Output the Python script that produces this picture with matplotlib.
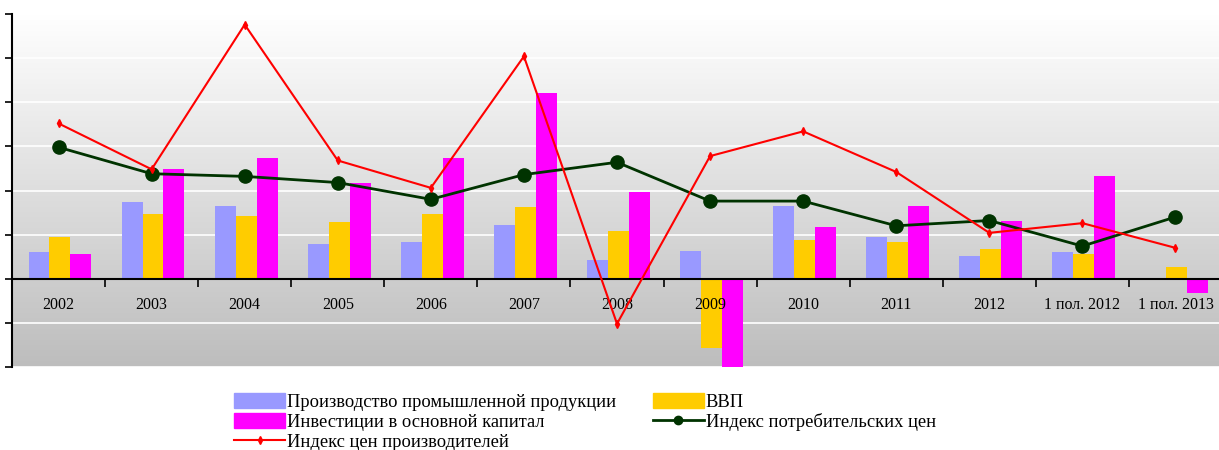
import numpy as np
import matplotlib.pyplot as plt
from matplotlib.lines import Line2D
from matplotlib.patches import Patch
from matplotlib.colors import LinearSegmentedColormap

## Données
categories = ['2002', '2003', '2004', '2005', '2006', '2007', '2008', '2009',
              '2010', '2011', '2012', '1 пол. 2012', '1 пол. 2013']
prom = [3.0, 8.7, 8.3, 3.9, 4.2, 6.1, 2.1, 3.2, 8.2, 4.7, 2.6, 3.0, 0.0]
vvp = [4.7, 7.3, 7.1, 6.4, 7.3, 8.1, 5.4, -7.8, 4.4, 4.2, 3.4, 2.8, 1.3]
invest = [2.8, 12.4, 13.7, 10.9, 13.7, 21.1, 9.8, -10.0, 5.9, 8.3, 6.6, 11.6, -1.6]
ipc = [14.9, 11.9, 11.6, 10.9, 9.0, 11.8, 13.2, 8.8, 8.8, 6.0, 6.6, 3.7, 7.0]
icp = [17.6, 12.4, 28.8, 13.4, 10.3, 25.2, -5.1, 13.9, 16.7, 12.1, 5.2, 6.3, 3.5]

legend_labels = ['Производство промышленной продукции', 'ВВП',
                 'Инвестиции в основной капитал', 'Индекс потребительских цен',
                 'Индекс цен производителей']

## Figure
plt.rcParams['font.family'] = ['Liberation Serif', 'DejaVu Serif']
fig = plt.figure(figsize=(12.19, 4.5), dpi=100)
ax = fig.add_axes([12 / 1219, 83 / 450, 1210 / 1219, 353 / 450])

x = np.arange(len(categories))
ax.set_xlim(-0.5, len(categories) - 0.5)
ax.set_ylim(-10, 30)

# fond dégradé
grad = np.linspace(1, 0, 256).reshape(-1, 1)
cmap = LinearSegmentedColormap.from_list('fond', ['#bdbdbd', '#ffffff'])
ax.imshow(grad, aspect='auto', cmap=cmap, extent=[-0.5, len(categories) - 0.5, -10, 30],
          origin='upper', zorder=0)
for yv in range(-10, 31, 5):
    ax.axhline(yv, color='white', lw=1.2, zorder=0.5)

w = 0.225
off = 0.015
ax.bar(x - w + off, prom, w, color='#9999ff', zorder=2)
ax.bar(x + off, vvp, w, color='#ffcc00', zorder=2)
ax.bar(x + w + off, invest, w, color='#ff00ff', zorder=2)

ax.plot(x, ipc, color='#003300', lw=2, marker='o', ms=9.5, zorder=3)
ax.plot(x, icp, color='#ff0000', lw=1.5, marker='d', ms=4, zorder=4)

# axes
ax.set_axisbelow(False)
ax.spines['top'].set_visible(False)
ax.spines['right'].set_visible(False)
ax.spines['bottom'].set_position(('data', 0))
ax.spines['bottom'].set_linewidth(1.5)
ax.spines['left'].set_linewidth(1.5)
ax.set_yticks(range(-10, 31, 5))
ax.set_yticklabels([])
ax.tick_params(axis='y', direction='out', length=5, width=1.2)
ax.set_xticks(np.arange(-0.5, len(categories), 1))
ax.set_xticklabels([])
ax.tick_params(axis='x', which='major', direction='out', length=6, width=1.2)
ax.set_xticks(x, minor=True)
ax.set_xticklabels(categories, minor=True, fontsize=11.5)
ax.tick_params(axis='x', which='minor', length=0, pad=13)

# légende
handles = [Patch(color='#9999ff'), Patch(color='#ff00ff'),
           Line2D([], [], color='#ff0000', lw=1.5, marker='d', ms=4),
           Patch(color='#ffcc00'),
           Line2D([], [], color='#003300', lw=2, marker='o', ms=6)]
labels = [legend_labels[0], legend_labels[2], legend_labels[4],
          legend_labels[1], legend_labels[3]]
fig.legend(handles, labels, ncol=2, loc='upper left', bbox_to_anchor=(225 / 1219, 1 - 384 / 450),
           frameon=False, fontsize=13.3, handlelength=2.75, handleheight=0.85,
           handletextpad=0.1, labelspacing=0.12, columnspacing=2.0, borderpad=0)

plt.savefig('out.png', dpi=100)
